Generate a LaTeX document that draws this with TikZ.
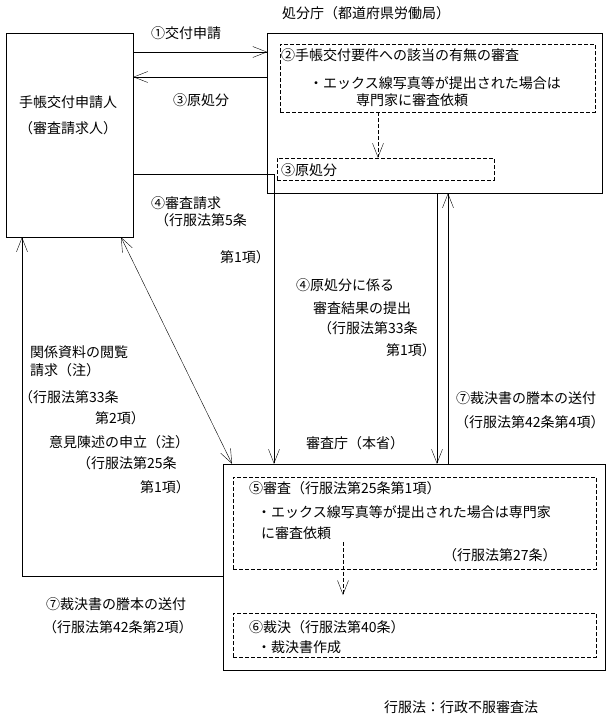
\documentclass[tikz,border=0pt]{standalone}
\usepackage{fontspec}
\setmainfont{Noto Sans CJK JP}
\usetikzlibrary{arrows.meta}
\tikzset{x=1pt,y=-1pt,line width=0.8pt,
  waku/.style={draw,inner sep=0pt},
  haten/.style={draw,inner sep=0pt,dash pattern=on 4pt off 2pt},
  moji/.style={anchor=west,inner sep=0pt,font=\fontsize{14pt}{16pt}\selectfont},
  ya/.style={-{Straight Barb[length=14pt,width=11pt]}},
  ryoya/.style={{Straight Barb[length=14pt,width=11pt]}-{Straight Barb[length=14pt,width=11pt]}},
  hya/.style={dash pattern=on 4pt off 2pt,-{Straight Barb[length=14pt,width=11pt]}}}
\begin{document}
\begin{tikzpicture}
\useasboundingbox (0,0) rectangle (609,716);
\node[waku,minimum width=127pt,minimum height=204pt] (shinsei) at (69.5,135) {};
\node[waku,minimum width=335pt,minimum height=160pt] (shobun) at (435,113) {};
\node[haten,minimum width=315pt,minimum height=68pt] (kensa) at (437.5,78) {};
\node[haten,minimum width=217pt,minimum height=22pt] (gen) at (385.5,169) {};
\node[waku,minimum width=382pt,minimum height=206pt] (shinsa) at (414,567) {};
\node[haten,minimum width=363pt,minimum height=92pt] (shinri) at (414.5,523) {};
\node[haten,minimum width=363pt,minimum height=44pt] (saiketsu) at (414.5,635) {};

\node[moji] (shobuncho) at (282,13) {処分庁（都道府県労働局）};
\node[moji] (hito1) at (19,102) {手帳交付申請人};
\node[moji] (hito2) at (19,128) {（審査請求人）};
\node[moji] (l1) at (151,33) {①交付申請};
\node[moji] (l3) at (173,100) {③原処分};
\node[moji] (k1) at (281,55) {②手帳交付要件への該当の有無の審査};
\node[moji] (k2) at (309,83) {・エックス線写真等が提出された場合は};
\node[moji] (k3) at (356,100) {専門家に審査依頼};
\node[moji] (g1) at (281,170) {③原処分};
\node[moji] (r1) at (151,203) {④審査請求};
\node[moji] (r2) at (155,220) {（行服法第5条};
\node[moji] (r3) at (220,257) {第1項）};
\node[moji] (t1) at (296,285) {④原処分に係る};
\node[moji] (t2) at (313,308) {審査結果の提出};
\node[moji] (t3) at (318,328) {（行服法第33条};
\node[moji] (t4) at (386,350) {第1項）};
\node[moji] (e1) at (30,352) {関係資料の閲覧};
\node[moji] (e2) at (30,370) {請求（注）};
\node[moji] (e3) at (19,397) {（行服法第33条};
\node[moji] (e4) at (95,418) {第2項）};
\node[moji] (e5) at (49,442) {意見陳述の申立（注）};
\node[moji] (e6) at (77,463) {（行服法第25条};
\node[moji] (e7) at (140,487) {第1項）};
\node[moji] (s1) at (456,398) {⑦裁決書の謄本の送付};
\node[moji] (s2) at (455,422) {（行服法第42条第4項）};
\node[moji] (shinsacho) at (306,443) {審査庁（本省）};
\node[moji] (n1) at (249,488) {⑤審査（行服法第25条第1項）};
\node[moji] (n2) at (257,512) {・エックス線写真等が提出された場合は専門家};
\node[moji] (n3) at (261,533) {に審査依頼};
\node[moji] (n4) at (443,555) {（行服法第27条）};
\node[moji] (m1) at (249,627) {⑥裁決（行服法第40条）};
\node[moji] (m2) at (257,647) {・裁決書作成};
\node[moji] (o1) at (46,604) {⑦裁決書の謄本の送付};
\node[moji] (o2) at (43,627) {（行服法第42条第2項）};
\node[moji] (chu) at (384,707) {行服法：行政不服審査法};

\coordinate (y1) at (0,52);
\coordinate (y3) at (0,77);
\coordinate (y4) at (0,174);
\coordinate (y7) at (0,576);
\coordinate (x4) at (274,0);
\coordinate (x5) at (437,0);
\coordinate (x6) at (448,0);
\coordinate (x7) at (22,0);
\coordinate (xa) at (121,0);
\coordinate (xb) at (232,0);
\coordinate (xh) at (378,0);
\coordinate (h1) at (343,542);
\coordinate (h2) at (343,595);

\draw[ya] (shinsei.east |- y1) -- (shobun.west |- y1);
\draw[ya] (shobun.west |- y3) -- (shinsei.east |- y3);
\draw[ya] (shinsei.east |- y4) -| (shinsa.north -| x4);
\draw[ya] (shobun.south -| x5) -- (shinsa.north -| x5);
\draw[ya] (shinsa.north -| x6) -- (shobun.south -| x6);
\draw[ya] (shinsa.west |- y7) -| (shinsei.south -| x7);
\draw[ryoya] (shinsei.south -| xa) -- (shinsa.north -| xb);
\draw[hya] (kensa.south -| xh) -- (gen.north -| xh);
\draw[hya] (h1) -- (h2);
\end{tikzpicture}
\end{document}
